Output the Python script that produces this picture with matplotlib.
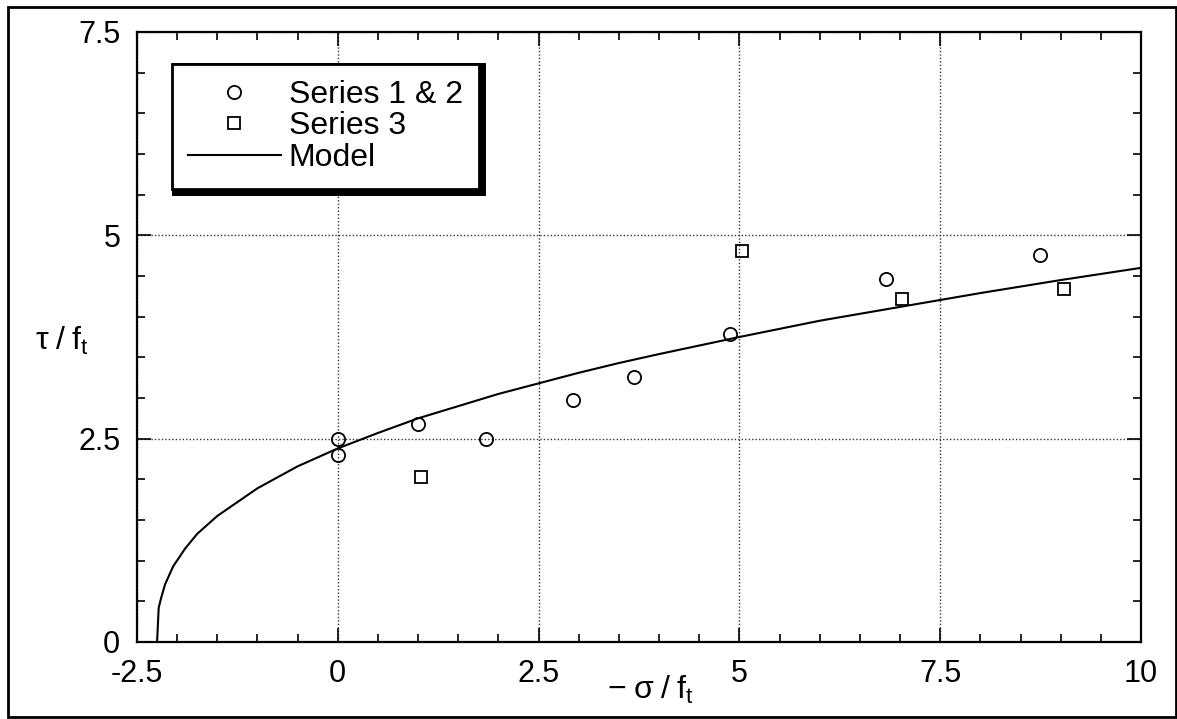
import matplotlib.pyplot as plt
from matplotlib.patches import Rectangle
from matplotlib.ticker import MultipleLocator

plt.rcParams["font.family"] = ["Liberation Sans", "DejaVu Sans"]
plt.rcParams["mathtext.fontset"] = "custom"
plt.rcParams["mathtext.rm"] = "Liberation Sans"
plt.rcParams["mathtext.it"] = "Liberation Sans"
plt.rcParams["axes.unicode_minus"] = False

# measured points
series12_x = [0.0, 0.0, 1.0, 1.84, 2.93, 3.69, 4.88, 6.82, 8.74]
series12_y = [2.5, 2.3, 2.68, 2.5, 2.98, 3.26, 3.79, 4.46, 4.76]
series3_x = [1.03, 5.03, 7.03, 9.04]
series3_y = [2.03, 4.81, 4.22, 4.34]

# model curve
model_x = [-2.25, -2.23, -2.2, -2.15, -2.05, -1.9, -1.75, -1.5, -1.0, -0.5,
           0.0, 0.5, 1.0, 1.5, 2.0, 2.5, 3.0, 3.5, 4.0, 5.0, 6.0, 7.0, 8.0,
           9.0, 10.0]
model_y = [0.0, 0.42, 0.54, 0.71, 0.93, 1.15, 1.33, 1.55, 1.89, 2.16,
           2.38, 2.57, 2.75, 2.90, 3.05, 3.18, 3.31, 3.43, 3.54, 3.75, 3.95,
           4.12, 4.29, 4.45, 4.60]

x_ticks = [-2.5, 0, 2.5, 5, 7.5, 10]
x_tick_labels = ["-2.5", "0", "2.5", "5", "7.5", "10"]
y_ticks = [0, 2.5, 5, 7.5]
y_tick_labels = ["0", "2.5", "5", "7.5"]

fig = plt.figure(figsize=(11.77, 7.19), dpi=100)
ax = fig.add_axes([0.1164, 0.1071, 0.853, 0.8484])

ax.plot(model_x, model_y, color="black", linewidth=1.5, label="Model", zorder=3)
ax.plot(series12_x, series12_y, linestyle="none", marker="o", markersize=9.5,
        markerfacecolor="none", markeredgecolor="black", markeredgewidth=1.3,
        label="Series 1 & 2", zorder=4)
ax.plot(series3_x, series3_y, linestyle="none", marker="s", markersize=8,
        markerfacecolor="none", markeredgecolor="black", markeredgewidth=1.3,
        label="Series 3", zorder=4)

ax.set_xlim(-2.5, 10)
ax.set_ylim(0, 7.5)
ax.set_xticks(x_ticks)
ax.set_xticklabels(x_tick_labels)
ax.set_yticks(y_ticks)
ax.set_yticklabels(y_tick_labels)
ax.xaxis.set_minor_locator(MultipleLocator(0.5))
ax.yaxis.set_minor_locator(MultipleLocator(0.5))

ax.tick_params(which="both", direction="in", top=True, right=True,
               labelsize=22, pad=12, width=1.2)
ax.tick_params(which="major", length=10)
ax.tick_params(which="minor", length=5.5)
for sp in ax.spines.values():
    sp.set_linewidth(1.6)

ax.grid(True, which="major", linestyle=(0, (1, 1.5)), color="#333333",
        linewidth=1.0)

ax.set_xlabel(r"$-\;\sigma\;/\;f_t$", fontsize=23)
ax.xaxis.set_label_coords(0.511, -0.094)
ax.xaxis.label.set_verticalalignment("baseline")
ax.set_ylabel(r"$\tau\;/\;f_t$", fontsize=23, rotation=0)
ax.yaxis.set_label_coords(-0.102, 0.479)
ax.yaxis.label.set_horizontalalignment("left")
ax.yaxis.label.set_verticalalignment("baseline")

handles, labels = ax.get_legend_handles_labels()
order = [1, 2, 0]
leg = ax.legend([handles[i] for i in order], [labels[i] for i in order],
                loc="upper left", bbox_to_anchor=(0.035, 0.948),
                borderaxespad=0, fontsize=23, frameon=True, fancybox=False,
                shadow={"color": "black", "alpha": 1, "linewidth": 5},
                framealpha=1, edgecolor="black", handlelength=2.9,
                handletextpad=0.25, labelspacing=0.05, borderpad=0.5)
leg.get_frame().set_linewidth(2)
leg.set_zorder(5)

# frame round the whole figure
fig.patches.append(Rectangle((0.0068, 0.0028), 0.992, 0.9875,
                             transform=fig.transFigure, fill=False,
                             edgecolor="black", linewidth=2))

fig.savefig("out.png", dpi=100)
